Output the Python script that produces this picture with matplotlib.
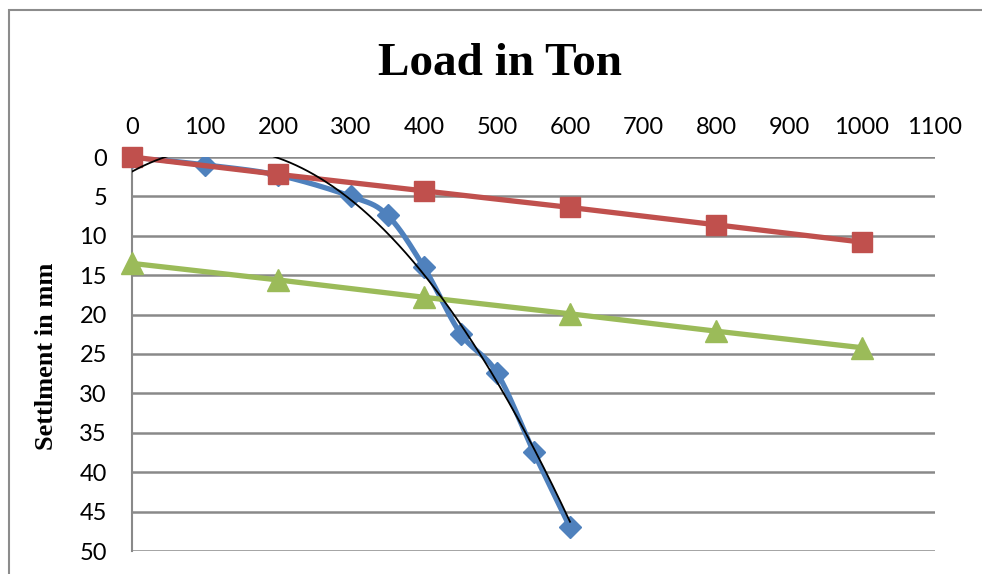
import numpy as np
import matplotlib
matplotlib.use("Agg")
import matplotlib.pyplot as plt
from matplotlib.patches import Rectangle

# data
blue_x = [0, 100, 200, 300, 350, 400, 450, 500, 550, 600]
blue_y = [0, 1.0, 2.3, 5.0, 7.4, 14.0, 22.4, 27.4, 37.4, 47.0]
red_x = [0, 200, 400, 600, 800, 1000]
red_y = [0, 2.2, 4.3, 6.4, 8.6, 10.8]
green_x = [0, 200, 400, 600, 800, 1000]
green_y = [13.5, 15.6, 17.8, 19.9, 22.1, 24.2]
x_ticks = list(range(0, 1101, 100))
y_ticks = list(range(0, 51, 5))
title = "Load in Ton"
ylabel = "Settlment in mm"

BLUE = "#4F81BD"
RED = "#C0504D"
GREEN = "#9BBB59"
GRID = "#898989"


def smooth(xs, ys, n=30):
    xs = np.asarray(xs, float)
    ys = np.asarray(ys, float)
    P = np.column_stack([xs, ys])
    out = []
    for i in range(len(P) - 1):
        p0 = P[i - 1] if i > 0 else P[i]
        p1 = P[i]
        p2 = P[i + 1]
        p3 = P[i + 2] if i + 2 < len(P) else P[i + 1]
        c1 = p1 + (p2 - p0) / 6.0
        c2 = p2 - (p3 - p1) / 6.0
        t = np.linspace(0, 1, n)[:, None]
        seg = ((1 - t) ** 3) * p1 + 3 * ((1 - t) ** 2) * t * c1 + 3 * (1 - t) * t ** 2 * c2 + t ** 3 * p2
        out.append(seg if i == 0 else seg[1:])
    s = np.vstack(out)
    return s[:, 0], s[:, 1]


fig = plt.figure(figsize=(9.82, 5.74), dpi=100)
fig.patches.append(Rectangle((9 / 982, -0.1), 1.2, 1.1 - 10 / 574, transform=fig.transFigure,
                             fill=False, edgecolor="#8c8c8c", linewidth=1.5))
ax = fig.add_axes([132 / 982, 1 - 551 / 574, (935 - 132) / 982, (551 - 157) / 574])

ax.set_xlim(0, 1100)
ax.set_ylim(50, 0)
ax.set_xticks(x_ticks)
ax.set_yticks(y_ticks)
ax.xaxis.tick_top()
tick_font = dict(family="Lato", size=17)
ax.set_xticklabels([str(v) for v in x_ticks], **tick_font)
ax.set_yticklabels([str(v) for v in y_ticks], **tick_font)
ax.tick_params(axis="y", length=0, pad=18)
ax.tick_params(axis="x", length=0, pad=14)
for s in ["top", "right", "bottom"]:
    ax.spines[s].set_visible(False)
ax.spines["left"].set_color(GRID)
ax.spines["left"].set_linewidth(1.5)
ax.yaxis.grid(True, color=GRID, linewidth=1.8)
ax.set_axisbelow(True)

# blue smoothed
sx, sy = smooth(blue_x, blue_y)
ax.plot(sx, sy, color=BLUE, linewidth=3.8, zorder=3, solid_capstyle="round")
ax.plot(blue_x, blue_y, linestyle="none", marker="D", markersize=11.5, color=BLUE, zorder=4)

# trendline (poly order 2 of blue)
coef = np.polyfit(blue_x, blue_y, 2)
tx = np.linspace(min(blue_x), max(blue_x), 300)
ax.plot(tx, np.polyval(coef, tx), color="black", linewidth=1.3, zorder=6)

ax.plot(red_x, red_y, color=RED, linewidth=3.8, marker="s", markersize=14.5, zorder=5, clip_on=False)
ax.plot(green_x, green_y, color=GREEN, linewidth=3.8, marker="^", markersize=16, zorder=5, clip_on=False)

fig.text(500 / 982, 1 - 64 / 574, title, ha="center", va="center",
         family="Liberation Serif", weight="bold", size=34)
fig.text(47 / 982, 1 - 356 / 574, ylabel, ha="center", va="center", rotation=90,
         family="Liberation Serif", weight="bold", size=19)

fig.savefig("out.png", dpi=100)
